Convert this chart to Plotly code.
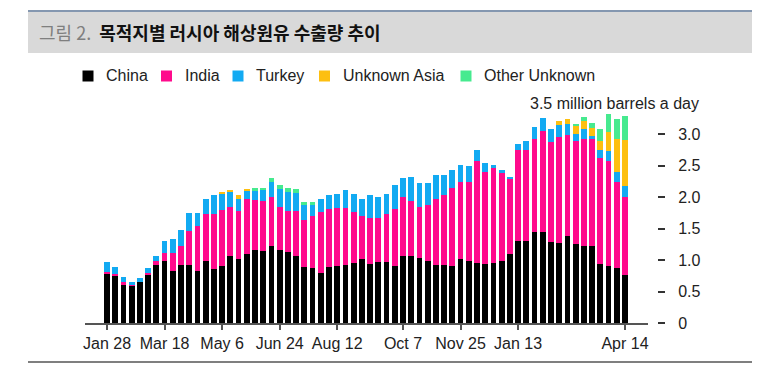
import pandas as pd
import plotly.graph_objects as go

# ---- data (million barrels a day, weekly) ----
weeks = pd.date_range("2022-01-28", periods=64, freq="7D")
tick_dates = ["2022-01-28", "2022-03-18", "2022-05-06", "2022-06-24", "2022-08-12",
              "2022-10-07", "2022-11-25", "2023-01-13", "2023-04-14"]
tick_text = ["Jan 28", "Mar 18", "May 6", "Jun 24", "Aug 12", "Oct 7", "Nov 25", "Jan 13", "Apr 14"]

china = [0.79, 0.75, 0.62, 0.60, 0.65, 0.76, 0.93, 0.98, 0.83, 0.93, 0.93, 0.83, 0.98, 0.86, 0.91, 1.07,
         1.02, 1.10, 1.16, 1.14, 1.22, 1.16, 1.13, 1.06, 0.89, 0.87, 0.80, 0.89, 0.91, 0.93, 0.96, 1.02,
         0.94, 0.97, 0.97, 0.91, 1.07, 1.07, 1.04, 0.98, 0.93, 0.93, 0.91, 1.02, 0.98, 0.96, 0.94, 0.96,
         0.98, 1.09, 1.31, 1.31, 1.44, 1.44, 1.29, 1.27, 1.38, 1.26, 1.22, 1.23, 0.94, 0.91, 0.87, 0.77]
india = [0.02, 0.03, 0.03, 0.02, 0.00, 0.04, 0.05, 0.13, 0.28, 0.29, 0.53, 0.72, 0.76, 0.88, 0.89, 0.78,
         0.76, 0.87, 0.80, 0.80, 0.78, 0.69, 0.65, 0.72, 0.75, 0.84, 0.96, 0.93, 0.92, 0.90, 0.81, 0.69,
         0.73, 0.70, 0.76, 0.91, 0.94, 0.87, 0.81, 0.89, 1.05, 1.11, 1.24, 1.23, 1.27, 1.61, 1.47, 1.50,
         1.40, 1.21, 1.45, 1.44, 1.49, 1.61, 1.59, 1.69, 1.61, 1.63, 1.71, 1.69, 1.69, 1.67, 1.37, 1.24]
turkey = [0.16, 0.11, 0.08, 0.03, 0.06, 0.07, 0.08, 0.20, 0.22, 0.26, 0.29, 0.20, 0.23, 0.29, 0.26, 0.24,
          0.20, 0.13, 0.14, 0.17, 0.24, 0.28, 0.30, 0.29, 0.23, 0.17, 0.22, 0.22, 0.22, 0.28, 0.29, 0.27,
          0.37, 0.34, 0.33, 0.38, 0.30, 0.38, 0.38, 0.36, 0.37, 0.31, 0.29, 0.26, 0.25, 0.18, 0.14, 0.05,
          0.06, 0.03, 0.08, 0.14, 0.19, 0.21, 0.20, 0.19, 0.18, 0.12, 0.15, 0.06, 0.12, 0.15, 0.16, 0.17]
unknown_asia = [0] * 14 + [0.02, 0.03, 0.05, 0.02] + [0] * 37 + \
               [0.06, 0.08, 0.13, 0.13, 0.13, 0.14, 0.31, 0.53, 0.73]
other_unknown = [0] * 18 + [0.04, 0.04, 0.06, 0.06, 0.06, 0.06, 0.06, 0.05] + [0] * 31 + \
                [0.03, 0.07, 0.07, 0.20, 0.28, 0.31, 0.39]

series_names = ["China", "India", "Turkey", "Unknown Asia", "Other Unknown"]
series_vals = [china, india, turkey, unknown_asia, other_unknown]
series_cols = ["#000000", "#ff0a8c", "#12aaf2", "#fdbf10", "#46ea8f"]

y_ticks = [0, 0.5, 1.0, 1.5, 2.0, 2.5, 3.0]
y_text = ["0", "0.5", "1.0", "1.5", "2.0", "2.5", "3.0"]

# ---- layout helpers: reference-pixel -> paper (page has 8px body margin) ----
W, H = 775, 358
ML, MR, MT, MB = 77, 60, 95, 43
PW = W - ML - MR
PH = H - MT - MB
def px(x): return (x - 8 - ML) / PW
def py(y): return (H - MB - (y - 8)) / PH

fig = go.Figure()
for name, vals, col in zip(series_names, series_vals, series_cols):
    fig.add_trace(go.Bar(x=weeks, y=vals, name=name, marker_color=col,
                         marker_line_width=0, showlegend=False))

week = pd.Timedelta(days=7)
x0 = weeks[0] - 2.68 * week
x1 = weeks[0] + 65.8 * week

fig.update_layout(
    width=W, height=H,
    margin=dict(l=ML, r=MR, t=MT, b=MB),
    paper_bgcolor="white", plot_bgcolor="white",
    barmode="stack", bargap=0.3,
    font=dict(family="Liberation Sans, Arial, sans-serif", size=16, color="#222222"),
    xaxis=dict(domain=[0, px(648)], range=[x0, x1], type="date",
               tickvals=pd.to_datetime(tick_dates), ticktext=tick_text,
               showline=True, linecolor="#555555", linewidth=1.5,
               ticks="outside", ticklen=5, tickcolor="#555555", tickwidth=1.5,
               showgrid=False, zeroline=False, tickfont=dict(size=16, color="#222222")),
    yaxis=dict(range=[0, 3.5], anchor="free", position=px(657), side="right",
               tickvals=y_ticks, ticktext=y_text, ticks="outside", ticklen=7,
               tickcolor="#333333", tickwidth=1.5, ticklabelstandoff=10,
               showline=False, showgrid=False, zeroline=False,
               tickfont=dict(size=16, color="#222222")),
)

# manual legend
legend_text_x = [105, 183.5, 255, 341.5, 483]
for name, col, tx in zip(series_names, series_cols, legend_text_x):
    cx = tx - 17
    fig.add_shape(type="rect", xref="paper", yref="paper",
                  x0=px(cx - 5.5), x1=px(cx + 5.5), y0=py(76 + 5.5), y1=py(76 - 5.5),
                  fillcolor=col, line_width=0)
    fig.add_annotation(xref="paper", yref="paper", x=px(tx), y=py(76), xanchor="left",
                       yanchor="middle", showarrow=False, text=name, xshift=-1,
                       font=dict(size=16, color="#222222"))

# header band
fig.add_shape(type="rect", xref="paper", yref="paper", x0=px(28), x1=px(752),
              y0=py(53), y1=py(11), fillcolor="#d9d9d9", line_width=0, layer="below")
fig.add_shape(type="line", xref="paper", yref="paper", x0=px(28), x1=px(752),
              y0=py(11), y1=py(11), line=dict(color="#8497b0", width=2))
# bottom rule
fig.add_shape(type="line", xref="paper", yref="paper", x0=px(28), x1=px(752),
              y0=py(362), y1=py(362), line=dict(color="#7f7f7f", width=2))

fig.add_annotation(xref="paper", yref="paper", x=px(37), y=py(32), xanchor="left", yanchor="middle",
                   showarrow=False,
                   text="<span style='color:#7f7f7f'>그림 2.</span>&nbsp;&nbsp;<b>목적지별 러시아 해상원유 수출량 추이</b>",
                   font=dict(family="Noto Sans CJK KR", size=18, color="#111111"))

fig.add_annotation(xref="paper", yref="y", x=px(701), y=3.5, xanchor="right", yanchor="middle",
                   showarrow=False, text="3.5 million barrels a day",
                   font=dict(size=16, color="#222222"))

fig.write_html("out.html")
